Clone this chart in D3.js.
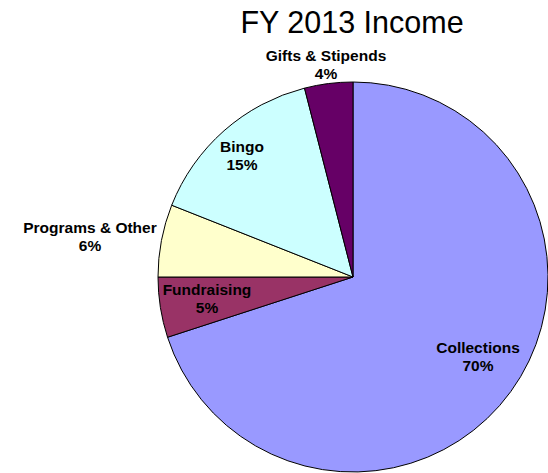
<!DOCTYPE html>
<html><head><meta charset="utf-8">
<script src="https://cdn.jsdelivr.net/npm/d3@7"></script>
<style>body{margin:0;background:#fff;} svg{display:block;}</style>
</head><body>
<svg id="c" width="548" height="473"></svg>
<script>
const categories = ["Collections", "Fundraising", "Programs & Other", "Bingo", "Gifts & Stipends"];
const values = [70, 5, 6, 15, 4];
const colors = ["#9999FF", "#993366", "#FFFFCC", "#CCFFFF", "#660066"];
const labelPos = [[478, 353], [207, 295], [90, 233], [242, 152], [326, 61]];
const title = "FY 2013 Income";

const svg = d3.select("#c");
const cx = 353, cy = 277, r = 195;
svg.append("text").attr("x", 352).attr("y", 33).attr("text-anchor", "middle")
  .attr("font-family", "Arial, 'Liberation Sans', sans-serif").attr("font-size", 30.5).attr("fill", "#000").text(title);

const pie = d3.pie().sort(null).value(d => d)(values);
const arc = d3.arc().innerRadius(0).outerRadius(r);
const g = svg.append("g").attr("transform", `translate(${cx},${cy})`);
g.selectAll("path").data(pie).enter().append("path")
  .attr("d", arc).attr("fill", (d, i) => colors[i])
  .attr("stroke", "#000").attr("stroke-width", 1);

const total = d3.sum(values);
const lab = svg.selectAll("text.lab").data(categories).enter().append("text").attr("class", "lab")
  .attr("text-anchor", "middle").attr("font-family", "Arial, 'Liberation Sans', sans-serif")
  .attr("font-weight", "bold").attr("font-size", 15.5).attr("fill", "#000");
lab.append("tspan").attr("x", (d, i) => labelPos[i][0]).attr("y", (d, i) => labelPos[i][1]).text(d => d);
lab.append("tspan").attr("x", (d, i) => labelPos[i][0]).attr("y", (d, i) => labelPos[i][1] + 17.5)
  .text((d, i) => Math.round(values[i] / total * 100) + "%");
</script>
</body></html>
